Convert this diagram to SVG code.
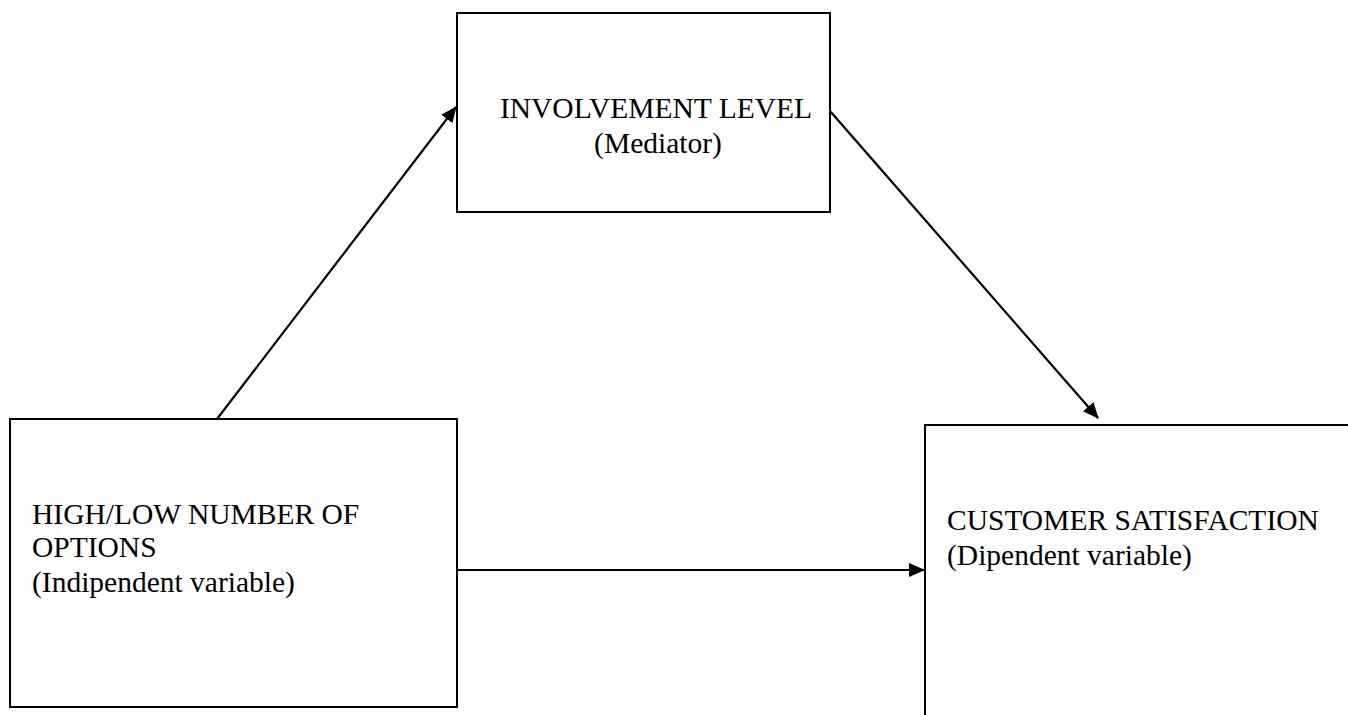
<svg xmlns="http://www.w3.org/2000/svg" width="1348" height="715" viewBox="0 0 1348 715">
<defs>
<marker id="ah" markerWidth="16" markerHeight="14" refX="15" refY="7" orient="auto" markerUnits="userSpaceOnUse">
<path d="M0,0 L16,7 L0,14 z" fill="#000"/>
</marker>
<style>
.box{fill:#fff;stroke:#000;stroke-width:2}
.t{font-family:"Liberation Serif","Times New Roman",serif;font-size:29.5px;fill:#000}
.c{fill:none;stroke:#000;stroke-width:2.2;marker-end:url(#ah)}
</style>
</defs>
<rect width="1348" height="715" fill="#fff"/>
<g id="n-mediator">
<rect class="box" x="457" y="13" width="373" height="199"/>
<text class="t" x="656" y="118" text-anchor="middle">INVOLVEMENT LEVEL</text>
<text class="t" x="658" y="153" text-anchor="middle">(Mediator)</text>
</g>
<g id="n-independent">
<rect class="box" x="10" y="419" width="447" height="288"/>
<text class="t" x="32" y="524">HIGH/LOW NUMBER OF</text>
<text class="t" x="32" y="557">OPTIONS</text>
<text class="t" x="32" y="592">(Indipendent variable)</text>
</g>
<g id="n-dependent">
<rect class="box" x="925" y="425" width="440" height="310"/>
<text class="t" x="947" y="530">CUSTOMER SATISFACTION</text>
<text class="t" x="947" y="565">(Dipendent variable)</text>
</g>
<g id="connectors">
<line class="c" x1="217" y1="419" x2="456" y2="107"/>
<line class="c" x1="830" y1="111" x2="1098" y2="418"/>
<line class="c" x1="457" y1="570" x2="924" y2="570"/>
</g>
</svg>
